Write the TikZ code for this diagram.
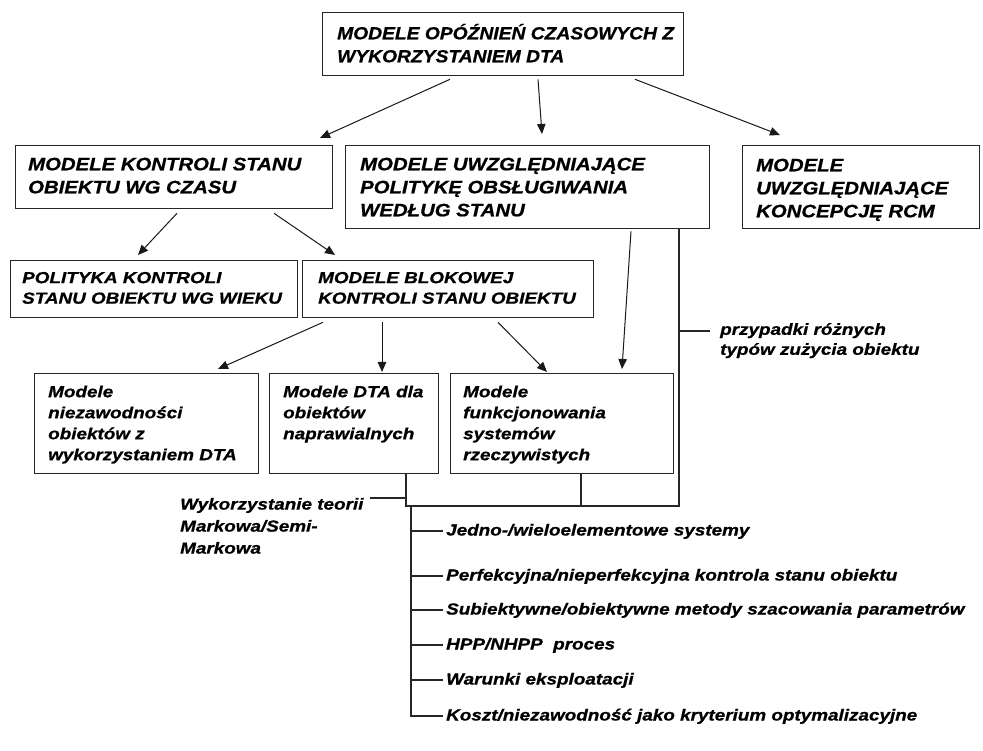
\documentclass[tikz,border=0pt]{standalone}
\usepackage{fontspec}
\newfontfamily\fontA[FakeStretch=1.13,FakeBold=0.8]{Liberation Sans}
\newfontfamily\fontT[FakeStretch=1.1,FakeBold=0.8]{Liberation Sans}
\newfontfamily\fontB[FakeStretch=1.18,FakeBold=0.8]{Liberation Sans}
\usetikzlibrary{arrows.meta,calc}
\begin{document}
\begin{tikzpicture}[x=1pt,y=-1pt,
  box/.style={draw=black!85, line width=1.3pt, inner sep=0pt, anchor=north west},
  tA/.style={font=\fontA\bfseries\itshape\fontsize{18}{23}\selectfont, align=left, inner sep=0pt, anchor=north west},
  tB/.style={font=\fontB\bfseries\itshape\fontsize{16}{21}\selectfont, align=left, inner sep=0pt, anchor=north west},
  item/.style={font=\fontB\bfseries\itshape\fontsize{16}{21}\selectfont, inner sep=0pt, anchor=west, text height=12pt, text depth=3pt},
  arr/.style={line width=1pt, draw=black!90, -{Triangle[length=10pt,width=8.5pt]}},
  ln/.style={line width=1.1pt, draw=black!85}]
\path[fill=white] (0,0) rectangle (983,751);
\useasboundingbox (0,0) rectangle (983,751);

% boxes
\node[box, minimum width=361pt, minimum height=63pt] (top) at (322,12) {};
\node[box, minimum width=317pt, minimum height=63pt] (A) at (15,145) {};
\node[box, minimum width=364pt, minimum height=83pt] (B) at (345,145) {};
\node[box, minimum width=237pt, minimum height=83pt] (C) at (742,145) {};
\node[box, minimum width=287pt, minimum height=57pt] (D) at (10,260) {};
\node[box, minimum width=291pt, minimum height=57pt] (E) at (302,260) {};
\node[box, minimum width=224pt, minimum height=100pt] (F) at (34,373) {};
\node[box, minimum width=169pt, minimum height=100pt] (G) at (269,373) {};
\node[box, minimum width=223pt, minimum height=100pt] (H) at (450,373) {};

% box texts
\node[tA, font=\fontT\bfseries\itshape\fontsize{17.5}{23}\selectfont] (topT) at (337,23) {\strut MODELE OPÓŹNIEŃ CZASOWYCH Z\\WYKORZYSTANIEM DTA};
\node[tA] (AT) at (28,154) {\strut MODELE KONTROLI STANU\\OBIEKTU WG CZASU};
\node[tA] (BT) at (360,154) {\strut MODELE UWZGLĘDNIAJĄCE\\POLITYKĘ OBSŁUGIWANIA\\WEDŁUG STANU};
\node[tA] (CT) at (756,155) {\strut MODELE\\UWZGLĘDNIAJĄCE\\KONCEPCJĘ RCM};
\node[tB, font=\fontB\bfseries\itshape\fontsize{16}{20.5}\selectfont] (DT) at (22,268.6) {\strut POLITYKA KONTROLI\\STANU OBIEKTU WG WIEKU};
\node[tB, font=\fontB\bfseries\itshape\fontsize{16}{20.5}\selectfont] (ET) at (318,268.6) {\strut MODELE BLOKOWEJ\\KONTROLI STANU OBIEKTU};
\node[tB] (FT) at (48,382.3) {\strut Modele\\niezawodności\\obiektów z\\wykorzystaniem DTA};
\node[tB] (GT) at (283,382.3) {\strut Modele DTA dla\\obiektów\\naprawialnych};
\node[tB] (HT) at (463,382.3) {\strut Modele\\funkcjonowania\\systemów\\rzeczywistych};
\node[tB, font=\fontB\bfseries\itshape\fontsize{16}{22}\selectfont] (WT) at (180,494) {\strut Wykorzystanie teorii\\Markowa/Semi-\\Markowa};
\node[tB, font=\fontB\bfseries\itshape\fontsize{16}{20}\selectfont] (PT) at (720,320.6) {\strut przypadki różnych\\typów zużycia obiektu};

% list items
\node[item] (L1) at (446,531) {Jedno-/wieloelementowe systemy};
\node[item] (L2) at (446,576) {Perfekcyjna/nieperfekcyjna kontrola stanu obiektu};
\node[item] (L3) at (446,610) {Subiektywne/obiektywne metody szacowania parametrów};
\node[item] (L4) at (446,645) {HPP/NHPP\ \ proces};
\node[item] (L5) at (446,680) {Warunki eksploatacji};
\node[item] (L6) at (446,716) {Koszt/niezawodność jako kryterium optymalizacyjne};

% arrows
\draw[arr] ($(top.south west)+(128,3)$) -- ($(A.north west)+(305,-7)$);
\draw[arr] ($(top.south west)+(216,3)$) -- ($(B.north west)+(197,-11)$);
\draw[arr] ($(top.south west)+(313,3)$) -- ($(C.north west)+(38,-10)$);
\draw[arr] ($(A.south west)+(162,4)$) -- ($(D.north west)+(128,-5)$);
\draw[arr] ($(A.south west)+(259,4)$) -- ($(E.north west)+(33,-5)$);
\draw[arr] ($(E.south west)+(21,4)$) -- ($(F.north west)+(184,-4)$);
\draw[arr] ($(E.south west)+(80,4)$) -- ($(G.north west)+(113,-1)$);
\draw[arr] ($(E.south west)+(196,4)$) -- ($(H.north west)+(97,-1)$);
\draw[arr] ($(B.south west)+(286,2)$) -- ($(H.north west)+(172,-4)$);

% bracket lines
\coordinate (gj) at ($(G.south west)+(137,0)$);
\coordinate (hj) at ($(H.south west)+(131,0)$);
\coordinate (bj) at ($(B.south west)+(334,0)$);
\coordinate (busL) at (406,506);
\coordinate (busR) at (679,506);
\draw[ln] (gj) -- (busL) -- (busR) -- (bj);
\draw[ln] (hj) -- (hj |- busR);
\coordinate (wt) at (370,498);
\draw[ln] (wt) -- (wt -| gj);
\coordinate (pt) at (710,331);
\draw[ln] (bj |- pt) -- (pt);

% list spine
\coordinate (spine) at (411,506);
\draw[ln] (spine) |- ([xshift=-3pt]L6.west);
\foreach \n in {1,...,5} \draw[ln] (spine |- L\n.west) -- ([xshift=-3pt]L\n.west);
\end{tikzpicture}
\end{document}
